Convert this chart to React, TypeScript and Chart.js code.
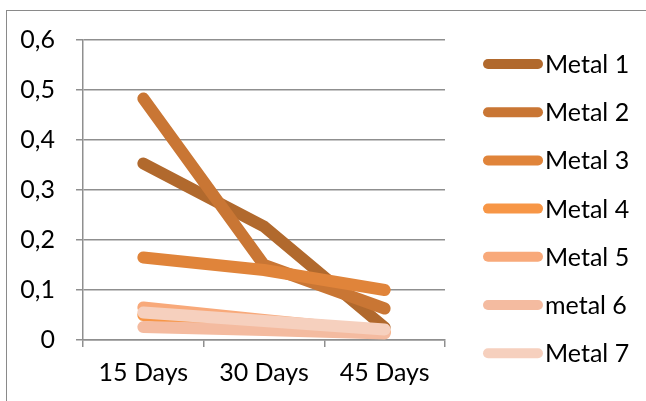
import { useEffect, useRef } from "react";
import { Chart, registerables } from "chart.js";

Chart.register(...registerables);

// Sampling points and tick labels
const categories = ["15 Days", "30 Days", "45 Days"];
const yTickLabels = ["0", "0,1", "0,2", "0,3", "0,4", "0,5", "0,6"];

// Series names (as labelled in the legend)
const seriesNames = ["Metal 1", "Metal 2", "Metal 3", "Metal 4", "Metal 5", "metal 6", "Metal 7"];

// Measured concentrations per series
const metal1 = [0.353, 0.227, 0.025];
const metal2 = [0.483, 0.15, 0.063];
const metal3 = [0.165, 0.14, 0.1];
const metal4 = [0.05, 0.03, 0.015];
const metal5 = [0.065, 0.04, 0.016];
const metal6 = [0.026, 0.02, 0.013];
const metal7 = [0.055, 0.038, 0.021];

const seriesValues = [metal1, metal2, metal3, metal4, metal5, metal6, metal7];

// Monochrome orange palette, darkest first
const seriesColors = ["#B1692D", "#C97634", "#E0843A", "#F79646", "#F8A97A", "#F4BBA0", "#F6D0BE"];

const FONT = "Lato, 'Liberation Sans', sans-serif";
const FONT_SIZE = 25;
const GRID = "#8f8f8f";

// Legend drawn to the right of the plot: a rounded stroke followed by the name
const sideLegend = {
  id: "sideLegend",
  afterDraw(chart: any) {
    const { ctx, chartArea } = chart;
    const x0 = chartArea.right + 43;
    const x1 = x0 + 50;
    const firstY = 64;
    const step = 48.2;
    ctx.save();
    ctx.font = `${FONT_SIZE}px ${FONT}`;
    ctx.textBaseline = "middle";
    ctx.textAlign = "left";
    chart.data.datasets.forEach((ds: any, i: number) => {
      const y = firstY + i * step;
      ctx.strokeStyle = ds.borderColor;
      ctx.lineWidth = 10;
      ctx.lineCap = "round";
      ctx.beginPath();
      ctx.moveTo(x0, y);
      ctx.lineTo(x1, y);
      ctx.stroke();
      ctx.fillStyle = "#000";
      ctx.fillText(ds.label, x1 + 7, y + 1);
    });
    ctx.restore();
  },
};

export default function App() {
  const canvasRef = useRef<HTMLCanvasElement | null>(null);

  useEffect(() => {
    const canvas = canvasRef.current;
    if (!canvas) return;
    const n = seriesNames.length;
    const chart = new Chart(canvas, {
      type: "line",
      data: {
        labels: categories,
        datasets: seriesNames.map((name, i) => ({
          label: name,
          data: seriesValues[i],
          borderColor: seriesColors[i],
          backgroundColor: seriesColors[i],
          borderWidth: 12,
          borderCapStyle: "round" as const,
          borderJoinStyle: "round" as const,
          pointRadius: 0,
          pointHoverRadius: 0,
          tension: 0,
          order: n - 1 - i,
        })),
      },
      options: {
        animation: false,
        responsive: false,
        maintainAspectRatio: false,
        events: [],
        layout: { padding: { top: 40, right: 201, left: 0, bottom: 0 } },
        plugins: {
          legend: { display: false },
          tooltip: { enabled: false },
        },
        scales: {
          x: {
            type: "category",
            offset: true,
            afterFit: (scale: any) => {
              scale.height = 61;
            },
            grid: {
              offset: true,
              drawOnChartArea: false,
              drawTicks: true,
              tickLength: 7,
              color: GRID,
              lineWidth: 1.5,
            },
            border: { display: true, color: GRID, width: 1.5 },
            ticks: {
              color: "#000",
              padding: 11,
              maxRotation: 0,
              autoSkip: false,
              font: { family: FONT, size: FONT_SIZE },
            },
          },
          y: {
            min: 0,
            max: 0.6,
            afterFit: (scale: any) => {
              scale.width = 83;
            },
            ticks: {
              stepSize: 0.1,
              color: "#000",
              padding: 21,
              font: { family: FONT, size: FONT_SIZE },
              callback: (_v: any, idx: number) => yTickLabels[idx],
            },
            grid: {
              color: GRID,
              lineWidth: 1.5,
              drawTicks: true,
              tickLength: 7,
            },
            border: { display: true, color: GRID, width: 1.5 },
          },
        },
      },
      plugins: [sideLegend],
    });
    return () => chart.destroy();
  }, []);

  return (
    <div
      style={{
        position: "fixed",
        left: 0,
        top: 0,
        width: 646,
        height: 401,
        overflow: "hidden",
        background: "#fff",
      }}
    >
      <div
        style={{
          position: "absolute",
          left: 6,
          top: 10,
          width: 700,
          height: 500,
          border: "1px solid #8a8a8a",
          boxSizing: "border-box",
        }}
      />
      <canvas
        ref={canvasRef}
        width={646}
        height={401}
        style={{ position: "absolute", left: 0, top: 0, width: 646, height: 401 }}
      />
    </div>
  );
}
